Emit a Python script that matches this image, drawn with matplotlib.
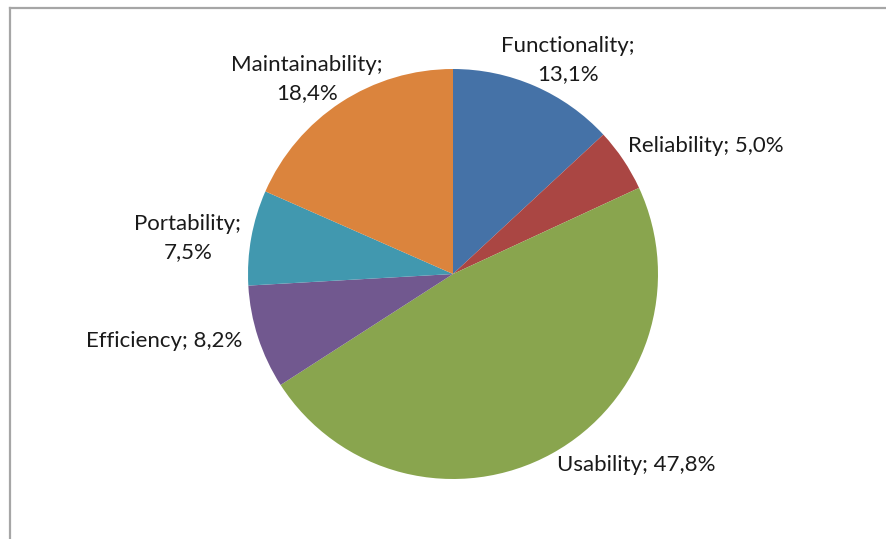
import numpy as np
import matplotlib
matplotlib.use("Agg")
import matplotlib.pyplot as plt
from matplotlib.lines import Line2D

# quality characteristics share, clockwise from 12 o'clock
categories = ['Functionality', 'Reliability', 'Usability', 'Efficiency', 'Portability', 'Maintainability']
shares = [13.1, 5.0, 47.8, 8.2, 7.5, 18.4]
colors = ['#4572A7', '#AA4643', '#89A54E', '#71588F', '#4198AF', '#DB843D']

# label layout: line break after the name, alignment, nudge (in pie radii)
label_wrap = [True, False, False, False, True, True]
label_ha = ['center', 'left', 'left', 'right', 'right', 'center']
label_shift = [(0.14, 0.08), (-0.02, 0.04), (0.0, -0.01), (-0.03, 0.0), (0.0, -0.01), (-0.14, 0.07)]

W, H = 887, 539
cx, cy, R = 453, 274, 205  # pie centre and radius in pixels

plt.rcParams['font.family'] = ['Lato', 'DejaVu Sans']

fig = plt.figure(figsize=(W / 100, H / 100), dpi=100)
ax = fig.add_axes([0, 0, 1, 1])

wedges, _ = ax.pie(shares, colors=colors, startangle=90, counterclock=False,
                   radius=1.0, center=(0, 0), wedgeprops=dict(linewidth=0))

ax.set_xlim(-cx / R, (W - cx) / R)
ax.set_ylim(-(H - cy) / R, cy / R)
ax.axis('off')

# data labels like Excel "Category; value"
start = 0.0
total = sum(shares)
for name, val, wrap, ha, (sx, sy) in zip(categories, shares, label_wrap, label_ha, label_shift):
    mid = np.deg2rad((start + val / 2) / total * 360)
    start += val
    x = 1.05 * np.sin(mid) + sx
    y = 1.05 * np.cos(mid) + sy
    txt = f"{name};" + ("\n" if wrap else " ") + f"{val:.1f}%".replace('.', ',')
    ax.text(x, y, txt, ha=ha, va='center', multialignment='center',
            fontsize=16, color='#1a1a1a', linespacing=1.5)

# chart area border (left and top edges visible)
fig.add_artist(Line2D([10 / W, 10 / W], [0, 1 - 8 / H], transform=fig.transFigure,
                      color='#a6a6a6', linewidth=1.6))
fig.add_artist(Line2D([10 / W, 1], [1 - 8 / H, 1 - 8 / H], transform=fig.transFigure,
                      color='#a6a6a6', linewidth=1.6))

fig.savefig('out.png', dpi=100)
